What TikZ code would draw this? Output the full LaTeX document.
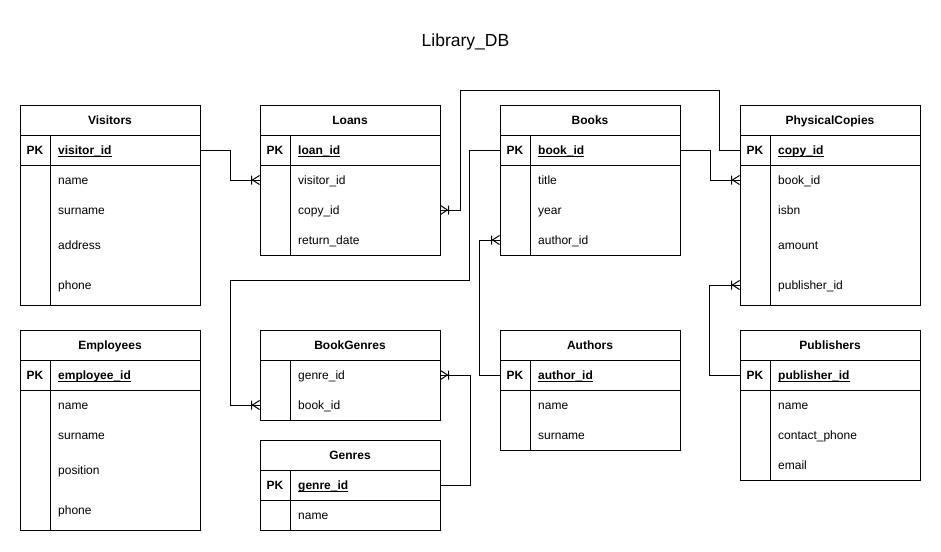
\documentclass[tikz,border=0pt]{standalone}
\usepackage{fontspec}
\setmainfont{Liberation Sans}
\usetikzlibrary{fit}
\tikzset{
  tbl/.style={draw, line width=1pt, inner sep=0pt},
  sepline/.style={line width=1pt},
  ttl/.style={font=\bfseries\fontsize{12}{14}\selectfont, inner sep=0pt, anchor=base},
  pkf/.style={font=\bfseries\fontsize{12}{14}\selectfont, inner sep=0pt, anchor=base},
  fld/.style={font=\fontsize{12}{14}\selectfont, inner sep=0pt, anchor=base west},
  keyf/.style={font=\bfseries\fontsize{12}{14}\selectfont, inner sep=0pt, anchor=base west},
  conn/.style={line width=1pt},
  crow/.pic={\draw[line width=1pt] (-7,0) -- (0,-4.5) (-7,0) -- (0,4.5) (-8,-4.5) -- (-8,4.5);}
}
% #1 name, #2 x, #3 top, #4 bottom, #5 title, #6 haspk (1/0)
\newcommand{\etable}[6]{%
  \node[tbl, fit={(#2,#3) (#2+180,#4)}] (#1) {};
  \draw[sepline] (#2,#3+30) -- (#2+180,#3+30);
  \draw[sepline] (#2+30,#3+30) -- (#2+30,#4);
  \node[ttl] (#1-title) at (#2+90,#3+19) {#5};
  \ifnum#6=1
    \draw[sepline] (#2,#3+60) -- (#2+180,#3+60);
    \node[pkf] (#1-pklabel) at (#2+15,#3+49) {PK};
  \fi
}
% #1 name, #2 table x, #3 row centre y, #4 text
\newcommand{\efield}[4]{%
  \coordinate (#1-r) at (#2,#3);
  \node[fld] (#1) at (#2+38,#3+4) {#4};
}
\newcommand{\ekey}[4]{%
  \coordinate (#1-r) at (#2,#3);
  \node[keyf] (#1) at (#2+38,#3+4) {#4};
  \draw[line width=0.9pt] ([yshift=-2pt]#1.base west) -- ([yshift=-2pt]#1.base east);
}
\begin{document}
\begin{tikzpicture}[x=1pt,y=-1pt]
\useasboundingbox (0,0) rectangle (941,551);
\node[font=\fontsize{17.5}{20}\selectfont, inner sep=0pt, anchor=base] (dbtitle) at (465.5,47) {Library\_DB};

% Visitors
\etable{visitors}{20}{105}{305}{Visitors}{1}
\ekey{visitors-pk}{20}{150}{visitor\_id}
\efield{visitors-name}{20}{180}{name}
\efield{visitors-surname}{20}{210}{surname}
\efield{visitors-address}{20}{245}{address}
\efield{visitors-phone}{20}{285}{phone}

% Loans
\etable{loans}{260}{105}{255}{Loans}{1}
\ekey{loans-pk}{260}{150}{loan\_id}
\efield{loans-visitor}{260}{180}{visitor\_id}
\efield{loans-copy}{260}{210}{copy\_id}
\efield{loans-return}{260}{240}{return\_date}

% Books
\etable{books}{500}{105}{255}{Books}{1}
\ekey{books-pk}{500}{150}{book\_id}
\efield{books-title}{500}{180}{title}
\efield{books-year}{500}{210}{year}
\efield{books-author}{500}{240}{author\_id}

% PhysicalCopies
\etable{pc}{740}{105}{305}{PhysicalCopies}{1}
\ekey{pc-pk}{740}{150}{copy\_id}
\efield{pc-book}{740}{180}{book\_id}
\efield{pc-isbn}{740}{210}{isbn}
\efield{pc-amount}{740}{245}{amount}
\efield{pc-pub}{740}{285}{publisher\_id}

% Employees
\etable{emp}{20}{330}{530}{Employees}{1}
\ekey{emp-pk}{20}{375}{employee\_id}
\efield{emp-name}{20}{405}{name}
\efield{emp-surname}{20}{435}{surname}
\efield{emp-position}{20}{470}{position}
\efield{emp-phone}{20}{510}{phone}

% BookGenres
\etable{bg}{260}{330}{420}{BookGenres}{0}
\efield{bg-genre}{260}{375}{genre\_id}
\efield{bg-book}{260}{405}{book\_id}

% Genres
\etable{genres}{260}{440}{530}{Genres}{1}
\ekey{genres-pk}{260}{485}{genre\_id}
\efield{genres-name}{260}{515}{name}

% Authors
\etable{authors}{500}{330}{450}{Authors}{1}
\ekey{authors-pk}{500}{375}{author\_id}
\efield{authors-name}{500}{405}{name}
\efield{authors-surname}{500}{435}{surname}

% Publishers
\etable{pub}{740}{330}{480}{Publishers}{1}
\ekey{pub-pk}{740}{375}{publisher\_id}
\efield{pub-name}{740}{405}{name}
\efield{pub-phone}{740}{435}{contact\_phone}
\efield{pub-email}{740}{465}{email}

% routing coordinates
\coordinate (toproute) at (460,90);
\coordinate (midroute) at (230,280);

% connectors
\draw[conn] (visitors.east |- visitors-pk-r) -- ++(30,0) |- (loans.west |- loans-visitor-r);
\pic at (loans.west |- loans-visitor-r) {crow};

\draw[conn] (pc.west |- pc-pk-r) -- ++(-20,0) |- (toproute) |- (loans.east |- loans-copy-r);
\pic[rotate=180] at (loans.east |- loans-copy-r) {crow};

\draw[conn] (books.east |- books-pk-r) -- ++(30,0) |- (pc.west |- pc-book-r);
\pic at (pc.west |- pc-book-r) {crow};

\draw[conn] (books.west |- books-pk-r) -- ++(-30,0) |- (midroute) |- (bg.west |- bg-book-r);
\pic at (bg.west |- bg-book-r) {crow};

\draw[conn] (authors.west |- authors-pk-r) -- ++(-20,0) |- (books.west |- books-author-r);
\pic at (books.west |- books-author-r) {crow};

\draw[conn] (genres.east |- genres-pk-r) -- ++(30,0) |- (bg.east |- bg-genre-r);
\pic[rotate=180] at (bg.east |- bg-genre-r) {crow};

\draw[conn] (pub.west |- pub-pk-r) -- ++(-30,0) |- (pc.west |- pc-pub-r);
\pic at (pc.west |- pc-pub-r) {crow};
\end{tikzpicture}
\end{document}
